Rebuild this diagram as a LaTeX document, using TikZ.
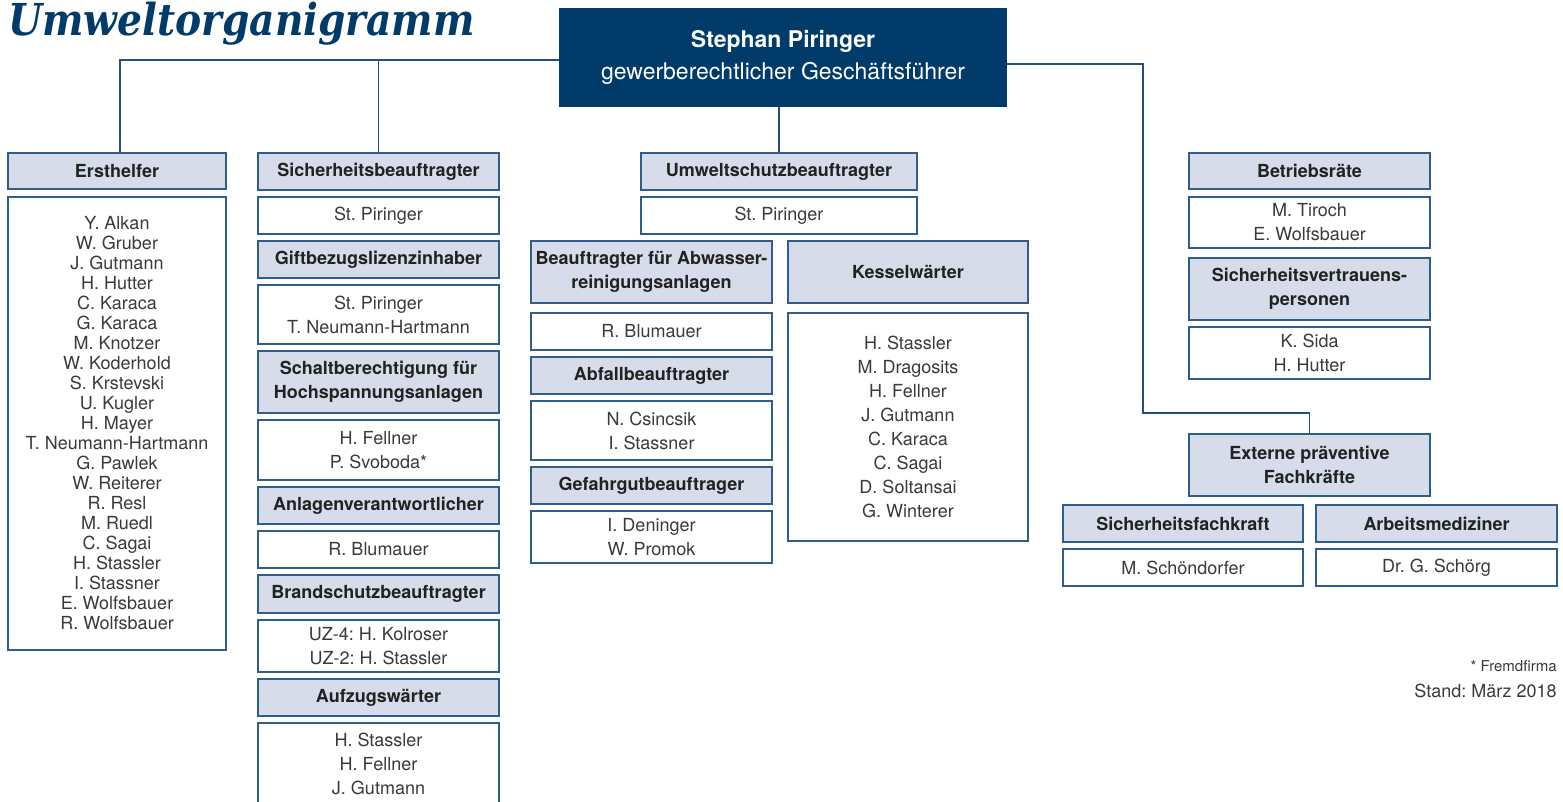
\documentclass[tikz,border=0pt]{standalone}
\usepackage{fontspec}
\setmainfont{TeX Gyre Heros}
\newfontfamily\titelschrift[FakeStretch=0.89]{DejaVu Serif}
\definecolor{chefblau}{HTML}{003B6A}
\definecolor{rahmen}{HTML}{2F5D8C}
\definecolor{kopfblau}{HTML}{D6DCE9}
\definecolor{linienblau}{HTML}{23507E}
\definecolor{schwarz}{HTML}{222222}
\definecolor{grau}{HTML}{3A3A3A}
\frenchspacing

\begin{document}
\begin{tikzpicture}[x=0.5pt, y=-0.5pt,
    bx/.style 2 args={minimum width=#1*0.5pt, minimum height=#2*0.5pt},
    kopf/.style={draw=rahmen, fill=kopfblau, line width=0.8pt, inner sep=0pt,
      align=center, text=schwarz, font=\fontsize{9}{12}\selectfont\bfseries},
    liste/.style={draw=rahmen, fill=white, line width=0.8pt, inner sep=0pt,
      align=center, text=grau, font=\fontsize{9}{12}\selectfont},
    linie/.style={draw=linienblau, line width=0.8pt}]

    \useasboundingbox (0,0) rectangle (1563,802);

    % Titel
    \node[anchor=base west, inner sep=0pt, text=chefblau,
      font=\titelschrift\fontsize{22}{22}\selectfont\bfseries\itshape] (titel) at (8,36) {Umweltorganigramm};

    % Geschaeftsfuehrer
    \node[fill=chefblau, bx={448}{99}, inner sep=0pt, align=center, text=white,
      font=\fontsize{11.5}{16}\selectfont] (chef) at (783,57.5)
      {\textbf{Stephan Piringer}\\gewerberechtlicher Geschäftsführer};

    % Spalte 1: Ersthelfer
    \node[kopf, bx={218}{36}] (ersth) at (117,171) {Ersthelfer};
    \node[liste, bx={218}{453}, font=\fontsize{9}{10}\selectfont] (ersthL) at (117,423.5)
      {Y. Alkan\\W. Gruber\\J. Gutmann\\H. Hutter\\C. Karaca\\G. Karaca\\M. Knotzer\\
       W. Koderhold\\S. Krstevski\\U. Kugler\\H. Mayer\\T. Neumann-Hartmann\\G. Pawlek\\
       W. Reiterer\\R. Resl\\M. Ruedl\\C. Sagai\\H. Stassler\\I. Stassner\\E. Wolfsbauer\\R. Wolfsbauer};

    % Spalte 2
    \node[kopf, bx={241}{37}] (sib) at (378.5,171.5) {Sicherheitsbeauftragter};
    \node[liste, bx={241}{37}] (sibL) at (378.5,215.5) {St. Piringer};
    \node[kopf, bx={241}{37}] (gift) at (378.5,259.5) {Giftbezugslizenzinhaber};
    \node[liste, bx={241}{59}] (giftL) at (378.5,314.5) {St. Piringer\\T. Neumann-Hartmann};
    \node[kopf, bx={241}{62}] (schalt) at (378.5,382) {Schaltberechtigung für\\Hochspannungsanlagen};
    \node[liste, bx={241}{60}] (schaltL) at (378.5,450) {H. Fellner\\P. Svoboda*};
    \node[kopf, bx={241}{37}] (anlage) at (378.5,505.5) {Anlagenverantwortlicher};
    \node[liste, bx={241}{37}] (anlageL) at (378.5,549.5) {R. Blumauer};
    \node[kopf, bx={241}{38}] (brand) at (378.5,594) {Brandschutzbeauftragter};
    \node[liste, bx={241}{52}] (brandL) at (378.5,646) {UZ-4: H. Kolroser\\UZ-2: H. Stassler};
    \node[kopf, bx={241}{37}] (aufzug) at (378.5,697.5) {Aufzugswärter};
    \node[liste, bx={241}{82}] (aufzugL) at (378.5,764) {H. Stassler\\H. Fellner\\J. Gutmann};

    % Spalte 3
    \node[kopf, bx={276}{37}] (umwelt) at (779,171.5) {Umweltschutzbeauftragter};
    \node[liste, bx={276}{37}] (umweltL) at (779,215.5) {St. Piringer};
    \node[kopf, bx={241}{62}] (abwasser) at (651.5,272) {Beauftragter für Abwasser-\\reinigungsanlagen};
    \node[liste, bx={241}{37}] (abwasserL) at (651.5,331.5) {R. Blumauer};
    \node[kopf, bx={241}{37}] (abfall) at (651.5,375.5) {Abfallbeauftragter};
    \node[liste, bx={241}{59}] (abfallL) at (651.5,430.5) {N. Csincsik\\I. Stassner};
    \node[kopf, bx={241}{37}] (gefahr) at (651.5,485.5) {Gefahrgutbeauftrager};
    \node[liste, bx={241}{52}] (gefahrL) at (651.5,537) {I. Deninger\\W. Promok};
    \node[kopf, bx={240}{62}] (kessel) at (908,272) {Kesselwärter};
    \node[liste, bx={240}{228}] (kesselL) at (908,427)
      {H. Stassler\\M. Dragosits\\H. Fellner\\J. Gutmann\\C. Karaca\\C. Sagai\\D. Soltansai\\G. Winterer};

    % Spalte 4
    \node[kopf, bx={241}{36}] (br) at (1309.5,171) {Betriebsräte};
    \node[liste, bx={241}{51}] (brL) at (1309.5,222.5) {M. Tiroch\\E. Wolfsbauer};
    \node[kopf, bx={241}{62}] (svp) at (1309.5,289) {Sicherheitsvertrauens-\\personen};
    \node[liste, bx={241}{52}] (svpL) at (1309.5,353) {K. Sida\\H. Hutter};
    \node[kopf, bx={241}{62}] (ext) at (1309.5,465) {Externe präventive\\Fachkräfte};
    \node[kopf, bx={240}{37}] (sifa) at (1183,523.5) {Sicherheitsfachkraft};
    \node[liste, bx={240}{37}] (sifaL) at (1183,567.5) {M. Schöndorfer};
    \node[kopf, bx={241}{37}] (amed) at (1436.5,523.5) {Arbeitsmediziner};
    \node[liste, bx={241}{37}] (amedL) at (1436.5,567.5) {Dr. G. Schörg};

    % Verbindungen
    \coordinate (links) at ([yshift=-1.25pt]chef.west);
    \coordinate (rechts) at ([yshift=-3.25pt]chef.east);
    \coordinate (knick) at (1143,413);
    \draw[linie] (links) -| ([xshift=1.5pt]ersth.north);
    \draw[linie] (links -| sib.north) -- (sib.north);
    \draw[linie] (chef.south -| umwelt.north) -- (umwelt.north);
    \draw[linie] (rechts) -| (knick) -| (ext.north);

    % Fussnote
    \node[anchor=base east, inner sep=0pt, text=grau, font=\fontsize{7.5}{9}\selectfont] (fremd) at (1557,671) {* Fremdfirma};
    \node[anchor=base east, inner sep=0pt, text=grau, font=\fontsize{9}{11}\selectfont] (stand) at (1557,697) {Stand: März 2018};

\end{tikzpicture}
\end{document}
